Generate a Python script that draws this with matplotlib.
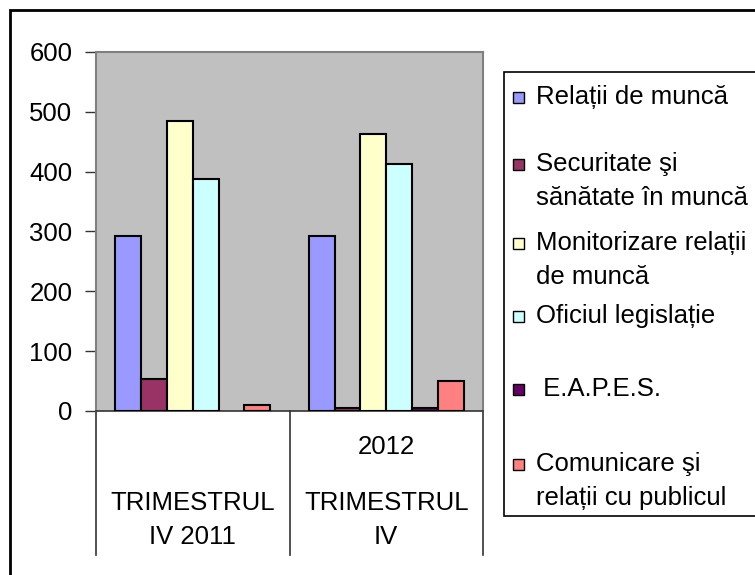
import matplotlib
matplotlib.use("Agg")
import matplotlib.pyplot as plt
from matplotlib.patches import Rectangle
import numpy as np

plt.rcParams['font.family'] = ['Liberation Sans', 'DejaVu Sans']

categories = ["TRIMESTRUL IV 2011", "TRIMESTRUL IV 2012"]
series_names = ["Relații de muncă", "Securitate şi\nsănătate în muncă",
                "Monitorizare relații\nde muncă", "Oficiul legislație",
                " E.A.P.E.S.", "Comunicare şi\nrelații cu publicul"]
relatii = [293, 293]
securitate = [53, 5]
monitorizare = [485, 463]
oficiul = [387, 413]
eapes = [0, 5]
comunicare = [10, 50]
colors = ["#9999FF", "#993366", "#FFFFCC", "#CCFFFF", "#660066", "#FF8080"]
yticks = [0, 100, 200, 300, 400, 500, 600]

W, H = 755, 575
fig = plt.figure(figsize=(W/100, H/100), dpi=100)

def fx(px): return px / W
def fy(py): return 1 - py / H

top, base = 52, 411
ax = fig.add_axes([fx(96), fy(base), fx(483) - fx(96), (base - top) / H])
ax.set_facecolor("#C0C0C0")

values = [relatii, securitate, monitorizare, oficiul, eapes, comunicare]
x = np.arange(len(categories))
bw = 0.8 / len(values)
for i, (vals, c) in enumerate(zip(values, colors)):
    pos = x - 0.4 + bw * (i + 0.5)
    v = np.array(vals, dtype=float)
    mask = v > 0
    ax.bar(pos[mask], v[mask], width=bw, color=c, edgecolor="black", linewidth=1.5, zorder=3)

FS_T = 18.5
FS_C = 18.5
FS_L = 18.5

ax.set_xlim(-0.5, 1.5)
ax.set_ylim(0, 600)
ax.set_yticks(yticks)
ax.set_yticklabels([str(t) for t in yticks], fontsize=FS_T)
ax.tick_params(axis='y', direction='out', length=8, width=1, color="#333333", pad=9)
ax.set_xticks([])
for s in ['left', 'right', 'top']:
    ax.spines[s].set_color("#808080")
    ax.spines[s].set_linewidth(1.5)
ax.spines['bottom'].set_color("#333333")
ax.spines['bottom'].set_linewidth(1.2)

# category axis box
bottom_frac = (base - 555) / (base - top)
trans = ax.get_xaxis_transform()
for xs in [-0.5, 0.5, 1.5]:
    ax.plot([xs, xs], [0, bottom_frac], transform=trans, color="#333333",
            linewidth=1.2, clip_on=False)

def yf(py): return (base - py) / (base - top)

ax.text(0, yf(503), "TRIMESTRUL", transform=trans, ha='center', va='center', fontsize=FS_C)
ax.text(0, yf(537), "IV 2011", transform=trans, ha='center', va='center', fontsize=FS_C)
ax.text(1, yf(447), "2012", transform=trans, ha='center', va='center', fontsize=FS_C)
ax.text(1, yf(503), "TRIMESTRUL", transform=trans, ha='center', va='center', fontsize=FS_C)
ax.text(1, yf(537), "IV", transform=trans, ha='center', va='center', fontsize=FS_C)

# legend box
fig.patches.append(Rectangle((fx(504), fy(516)), fx(800) - fx(504), fy(72) - fy(516),
                             transform=fig.transFigure, facecolor="white",
                             edgecolor="black", linewidth=1.2))
leg_y = [97, 164, 243, 316, 389, 464]
line_gap = 34
for name, c, yy in zip(series_names, colors, leg_y):
    fig.patches.append(Rectangle((fx(513), fy(yy + 6)), fx(11), 11 / H,
                                 transform=fig.transFigure, facecolor=c,
                                 edgecolor="black", linewidth=1.0))
    for k, ln in enumerate(name.split("\n")):
        fig.text(fx(536), fy(yy + k * line_gap), ln, ha='left', va='center', fontsize=FS_L)

# outer border
fig.patches.append(Rectangle((fx(10), fy(600)), fx(800) - fx(10), fy(10) - fy(600),
                             transform=fig.transFigure, facecolor="none",
                             edgecolor="black", linewidth=2, zorder=0))

fig.savefig("out.png", dpi=100)
